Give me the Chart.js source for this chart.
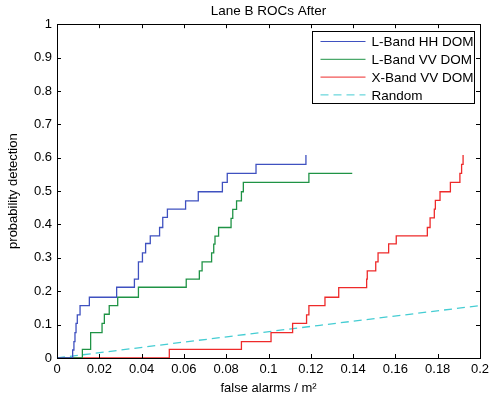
<!DOCTYPE html>
<html>
<head>
<meta charset="utf-8">
<script src="https://cdn.jsdelivr.net/npm/chart.js@4"></script>
<style>
  body { margin: 0; background: #fff; }
</style>
</head>
<body>
<canvas id="roc" width="494" height="402"></canvas>
<script>
// tick labels
const xTicks = [0, 0.02, 0.04, 0.06, 0.08, 0.1, 0.12, 0.14, 0.16, 0.18, 0.2];
const yTicks = [0, 0.1, 0.2, 0.3, 0.4, 0.5, 0.6, 0.7, 0.8, 0.9, 1];

const seriesNames = ["L-Band HH DOM", "L-Band VV DOM", "X-Band VV DOM", "Random"];

// step points: x where the curve jumps, new detection level
const hhX = [0, 0.0074, 0.0080, 0.0085, 0.0090, 0.0096, 0.0109, 0.0153, 0.0282, 0.0366, 0.0385,
  0.0404, 0.0419, 0.0441, 0.0485, 0.0500, 0.0522, 0.0608, 0.0668, 0.0782, 0.0805, 0.0941, 0.1177];
const hhY = [0, 0.024, 0.049, 0.076, 0.104, 0.129, 0.157, 0.182, 0.212, 0.236, 0.288,
  0.315, 0.343, 0.366, 0.391, 0.421, 0.446, 0.471, 0.498, 0.526, 0.553, 0.580, 0.608];

const vvX = [0, 0.0120, 0.0159, 0.0213, 0.0224, 0.0247, 0.0287, 0.0385, 0.0611, 0.0673, 0.0686,
  0.0731, 0.0741, 0.0747, 0.0764, 0.0823, 0.0831, 0.0849, 0.0872, 0.0881, 0.1191, 0.1396];
const vvY = [0, 0.026, 0.076, 0.104, 0.131, 0.157, 0.182, 0.212, 0.236, 0.261, 0.288,
  0.315, 0.341, 0.365, 0.391, 0.418, 0.445, 0.471, 0.498, 0.526, 0.553, 0.553];

const xvvX = [0, 0.0531, 0.0872, 0.1012, 0.1114, 0.1180, 0.1191, 0.1267, 0.1332, 0.1464, 0.1467,
  0.1507, 0.1518, 0.1568, 0.1604, 0.1751, 0.1764, 0.1784, 0.1789, 0.1811, 0.1860, 0.1905, 0.1913, 0.1920];
const xvvY = [0, 0.026, 0.049, 0.076, 0.104, 0.129, 0.157, 0.182, 0.211, 0.236, 0.261,
  0.288, 0.315, 0.342, 0.366, 0.391, 0.420, 0.446, 0.472, 0.498, 0.526, 0.553, 0.580, 0.608];

const randX = [0, 0.0605, 0.1243, 0.2];
const randY = [0, 0.048, 0.098, 0.157];

const pts = (xs, ys) => xs.map((x, i) => ({ x: x, y: ys[i] }));

Chart.defaults.font.family = "'Liberation Sans', Arial, Helvetica, sans-serif";
Chart.defaults.font.size = 13;
Chart.defaults.color = "#000";

// matlab-ish frame, inward ticks and boxed legend
const matlabFrame = {
  id: "matlabFrame",
  afterDatasetsDraw(chart) {
    const ctx = chart.ctx;
    const a = chart.chartArea;
    const xs = chart.scales.x, ys = chart.scales.y;
    const tl = 4;
    ctx.save();
    ctx.strokeStyle = "#000";
    ctx.lineWidth = 1;
    ctx.beginPath();
    xTicks.forEach(v => {
      const px = Math.round(xs.getPixelForValue(v)) + 0.5;
      ctx.moveTo(px, a.bottom); ctx.lineTo(px, a.bottom - tl);
      ctx.moveTo(px, a.top); ctx.lineTo(px, a.top + tl);
    });
    yTicks.forEach(v => {
      const py = Math.round(ys.getPixelForValue(v)) + 0.5;
      ctx.moveTo(a.left, py); ctx.lineTo(a.left + tl, py);
      ctx.moveTo(a.right, py); ctx.lineTo(a.right - tl, py);
    });
    ctx.stroke();
    ctx.strokeRect(Math.round(a.left) + 0.5, Math.round(a.top) + 0.5,
      Math.round(a.right - a.left), Math.round(a.bottom - a.top));

    // legend
    const bw = 162, bh = 72;
    const bx = Math.round(a.right - 6 - bw) + 0.5, by = Math.round(a.top + 7) + 0.5;
    ctx.fillStyle = "#fff";
    ctx.fillRect(bx, by, bw, bh);
    ctx.strokeRect(bx, by, bw, bh);
    ctx.font = "13.5px 'Liberation Sans', Arial, sans-serif";
    ctx.textBaseline = "middle";
    chart.data.datasets.forEach((ds, i) => {
      const cy = by + 10 + i * 17.8;
      ctx.strokeStyle = ds.borderColor;
      ctx.lineWidth = 1;
      ctx.setLineDash(ds.borderDash || []);
      ctx.beginPath();
      ctx.moveTo(bx + 8, cy); ctx.lineTo(bx + 53, cy);
      ctx.stroke();
      ctx.setLineDash([]);
      ctx.fillStyle = "#000";
      ctx.fillText(ds.label, bx + 59, cy + 1);
    });
    ctx.restore();
  }
};

new Chart(document.getElementById("roc"), {
  type: "scatter",
  data: {
    datasets: [
      { label: seriesNames[0], data: pts(hhX, hhY), borderColor: "#3f51c0", stepped: true },
      { label: seriesNames[1], data: pts(vvX, vvY), borderColor: "#1f9345", stepped: true },
      { label: seriesNames[2], data: pts(xvvX, xvvY), borderColor: "#ee2a2a", stepped: true },
      { label: seriesNames[3], data: pts(randX, randY), borderColor: "#45cdd3", borderDash: [8, 5] }
    ].map(d => Object.assign({ showLine: true, pointRadius: 0, borderWidth: 1.3, fill: false, clip: 3 }, d))
  },
  options: {
    responsive: false,
    animation: false,
    layout: { padding: { right: 14, top: 0 } },
    plugins: {
      legend: { display: false },
      tooltip: { enabled: false },
      title: {
        display: true,
        fullSize: false,
        text: "Lane B ROCs After",
        font: { size: 13.5, weight: "normal" },
        color: "#000",
        padding: { top: 3, bottom: 5 }
      }
    },
    scales: {
      x: {
        type: "linear",
        min: 0, max: 0.2,
        grid: { display: false, drawTicks: false },
        border: { display: false },
        afterBuildTicks: s => { s.ticks = xTicks.map(v => ({ value: v })); },
        afterFit: s => { s.height = 44; },
        ticks: { padding: 4, maxRotation: 0, autoSkip: false, color: "#000",
          callback: v => String(+v.toFixed(2)) },
        title: { display: true, text: "false alarms / m²", color: "#000", padding: { top: 0, bottom: 6 } }
      },
      y: {
        type: "linear",
        min: 0, max: 1,
        grid: { display: false, drawTicks: false },
        border: { display: false },
        afterBuildTicks: s => { s.ticks = yTicks.map(v => ({ value: v })); },
        afterFit: s => { s.width = 57; },
        ticks: { padding: 5, autoSkip: false, color: "#000",
          callback: v => String(+v.toFixed(1)) },
        title: { display: true, text: "probability detection", color: "#000", padding: { top: 6, bottom: 0 } }
      }
    }
  },
  plugins: [matlabFrame]
});
</script>
</body>
</html>
